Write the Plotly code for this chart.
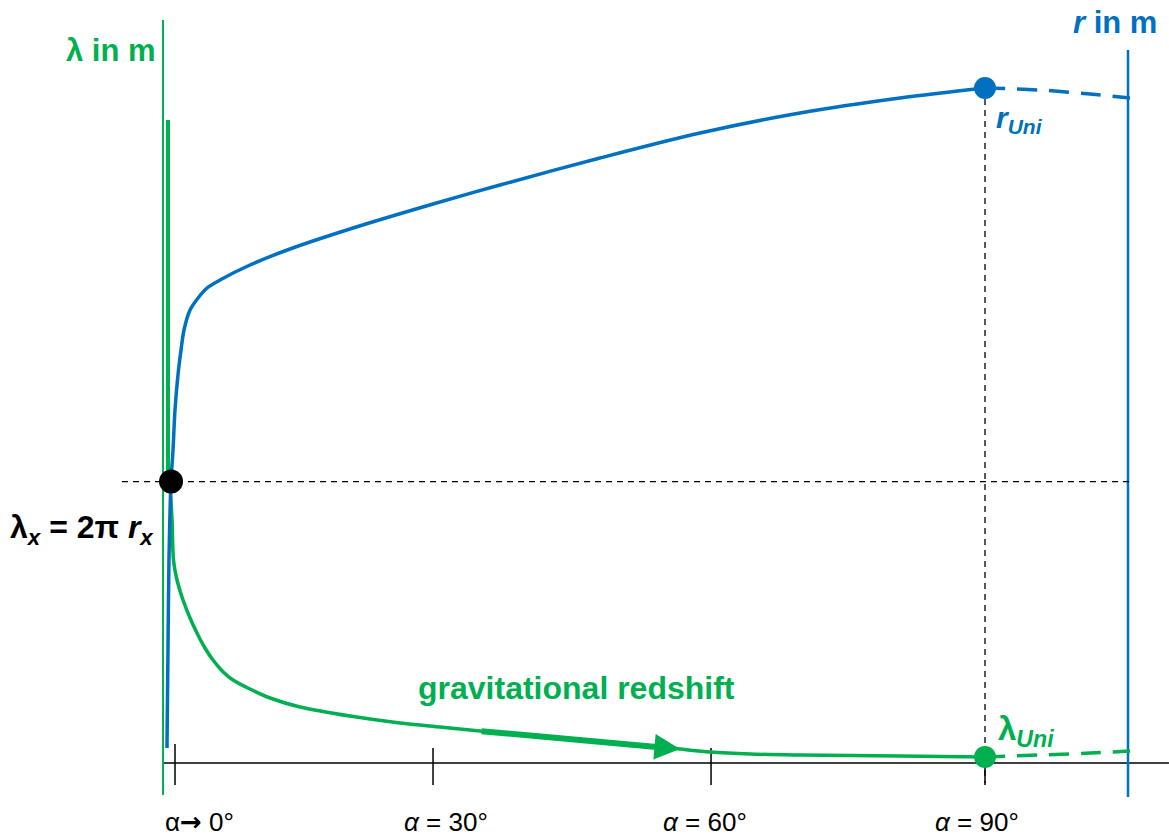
import plotly.graph_objects as go

GREEN = "#00B050"
BLUE = "#0070C0"
FONT = "Arial, 'Liberation Sans', sans-serif"

# ---- data (schematic units: x ~ alpha position, y ~ arbitrary length) ----
blue_x = [-0.89, -0.78, -0.67, -0.44, -0.22, 0.0, 0.33, 0.67, 1.0, 1.67, 2.56, 3.56,
          5.0, 8.33, 12.78, 19.44, 28.67, 36.11, 47.22, 58.33, 69.44, 80.56, 90.0]
blue_y = [2.22, 16.74, 30.07, 41.78, 46.37, 52.30, 57.48, 61.19, 64.15, 67.11, 68.89, 70.37,
          71.56, 73.78, 76.15, 79.11, 82.81, 85.63, 89.63, 93.33, 96.30, 98.52, 100.0]
blue_dash_x = [90.0, 96.11, 101.67, 106.11]
blue_dash_y = [100.0, 99.70, 99.11, 98.52]

green_spike_x = [-0.78, -0.78]
green_spike_y = [95.26, 41.78]
green_x = [-0.56, -0.33, -0.17, 0.17, 0.89, 1.67, 2.44, 3.33, 4.22, 5.33, 6.44, 8.33,
           10.56, 13.89, 19.44, 25.0, 29.44, 33.89, 41.67, 47.22, 52.78, 56.11, 59.44,
           63.89, 69.44, 80.56, 90.0]
green_y = [41.78, 36.0, 30.07, 27.41, 24.15, 21.48, 19.26, 17.04, 15.26, 13.53, 12.30, 10.96,
           9.63, 8.30, 6.96, 5.93, 5.33, 4.74, 3.70, 3.11, 2.52, 2.07, 1.63,
           1.33, 1.19, 1.04, 0.89]
green_dash_x = [90.0, 96.11, 101.67, 106.11]
green_dash_y = [0.89, 1.19, 1.48, 1.78]

tick_pos = [0.0, 28.67, 59.56, 90.0]
tick_labels = ["α<span style=\"font-family:'DejaVu Sans';font-weight:bold\">→</span> 0°",
               "<i>α</i> = 30°", "<i>α</i> = 60°", "<i>α</i> = 90°"]
tick_label_x = [2.72, 30.1, 58.9, 89.1]

cross_x, cross_y = -0.44, 41.7     # lambda_x = 2 pi r_x
r_uni = (90.0, 100.0)
lam_uni = (90.0, 0.89)

X_RANGE = [-19.444, 110.444]
Y_RANGE = [-11.11, 113.04]

fig = go.Figure()

# axes lines
fig.add_trace(go.Scatter(x=[-1.33, 110.44], y=[0, 0], mode="lines",
                         line=dict(color="black", width=1.5), hoverinfo="skip"))
fig.add_trace(go.Scatter(x=[-1.33, -1.33], y=[110.07, -4.74], mode="lines",
                         line=dict(color=GREEN, width=2), hoverinfo="skip"))
fig.add_trace(go.Scatter(x=[105.89, 105.89], y=[105.63, -5.04], mode="lines",
                         line=dict(color=BLUE, width=2.5), hoverinfo="skip"))

# ticks
for i, tp in enumerate(tick_pos):
    top = 2.81 if i == 0 else 2.22
    fig.add_trace(go.Scatter(x=[tp, tp], y=[top, -3.26], mode="lines",
                             line=dict(color="black", width=1.5), hoverinfo="skip"))

# dashed guides
fig.add_trace(go.Scatter(x=[-5.89, 106.1], y=[cross_y, cross_y], mode="lines",
                         line=dict(color="black", width=1.3, dash="6px,5px"), hoverinfo="skip"))
fig.add_trace(go.Scatter(x=[r_uni[0], r_uni[0]], y=[r_uni[1], -2.96], mode="lines",
                         line=dict(color="black", width=1.3, dash="6px,5px"), hoverinfo="skip"))

# curves
fig.add_trace(go.Scatter(x=green_spike_x, y=green_spike_y, mode="lines",
                         line=dict(color=GREEN, width=4), hoverinfo="skip"))
fig.add_trace(go.Scatter(x=green_x, y=green_y, mode="lines", line_shape="spline",
                         line=dict(color=GREEN, width=3.5, smoothing=0.8), hoverinfo="skip"))
fig.add_trace(go.Scatter(x=green_dash_x, y=green_dash_y, mode="lines", line_shape="spline",
                         line=dict(color=GREEN, width=3.5, dash="20px,12px"), hoverinfo="skip"))
fig.add_trace(go.Scatter(x=blue_x, y=blue_y, mode="lines", line_shape="spline",
                         line=dict(color=BLUE, width=3.5, smoothing=0.9), hoverinfo="skip"))
fig.add_trace(go.Scatter(x=blue_dash_x, y=blue_dash_y, mode="lines", line_shape="spline",
                         line=dict(color=BLUE, width=3.5, dash="20px,12px"), hoverinfo="skip"))

# dots
fig.add_trace(go.Scatter(x=[cross_x], y=[cross_y], mode="markers",
                         marker=dict(color="black", size=24), hoverinfo="skip"))
fig.add_trace(go.Scatter(x=[r_uni[0]], y=[r_uni[1]], mode="markers",
                         marker=dict(color=BLUE, size=22), hoverinfo="skip"))
fig.add_trace(go.Scatter(x=[lam_uni[0]], y=[lam_uni[1]], mode="markers",
                         marker=dict(color=GREEN, size=22), hoverinfo="skip"))

ann = []
for lx, lab in zip(tick_label_x, tick_labels):
    ann.append(dict(x=lx, y=-8.74, text=lab, showarrow=False, xanchor="center",
                    yanchor="middle", font=dict(family=FONT, size=26, color="black")))
ann += [
    dict(x=-1.89, y=105.63, text="<b>λ in m</b>", showarrow=False, xanchor="right",
         yanchor="middle", font=dict(family=FONT, size=31, color=GREEN)),
    dict(x=104.44, y=109.78, text="<b><i>r</i> in m</b>", showarrow=False, xanchor="center",
         yanchor="middle", font=dict(family=FONT, size=31, color=BLUE)),
    dict(x=91.0, y=95.3, text="<b><i>r<sub>Uni</sub></i></b>", showarrow=False,
         xanchor="left", yanchor="middle", font=dict(family=FONT, size=30, color=BLUE)),
    dict(x=91.2, y=4.8, text="<b>λ<sub><i>Uni</i></sub></b>", showarrow=False,
         xanchor="left", yanchor="middle", font=dict(family=FONT, size=33, color=GREEN)),
    dict(x=-2.1, y=34.6, text="<b>λ<sub><i>x</i></sub> = 2π <i>r<sub>x</sub></i></b>",
         showarrow=False, xanchor="right", yanchor="middle",
         font=dict(family=FONT, size=32, color="black")),
    dict(x=44.56, y=11.1, text="<b>gravitational redshift</b>", showarrow=False,
         xanchor="center", yanchor="middle", font=dict(family=FONT, size=32, color=GREEN)),
    dict(x=56.1, y=2.07, ax=33.9, ay=4.74, axref="x", ayref="y", xref="x", yref="y",
         text="", showarrow=True, arrowhead=2, arrowsize=0.85, arrowwidth=6,
         arrowcolor=GREEN),
]

fig.update_layout(
    width=1169, height=838,
    margin=dict(l=0, r=0, t=0, b=0),
    paper_bgcolor="white", plot_bgcolor="white",
    showlegend=False,
    xaxis=dict(range=X_RANGE, visible=False, fixedrange=True),
    yaxis=dict(range=Y_RANGE, visible=False, fixedrange=True),
    annotations=ann,
)

fig.write_html("out.html",
               config={"displayModeBar": False},
               post_script="document.body.style.margin='0px';"
                           "document.body.style.overflow='hidden';")
